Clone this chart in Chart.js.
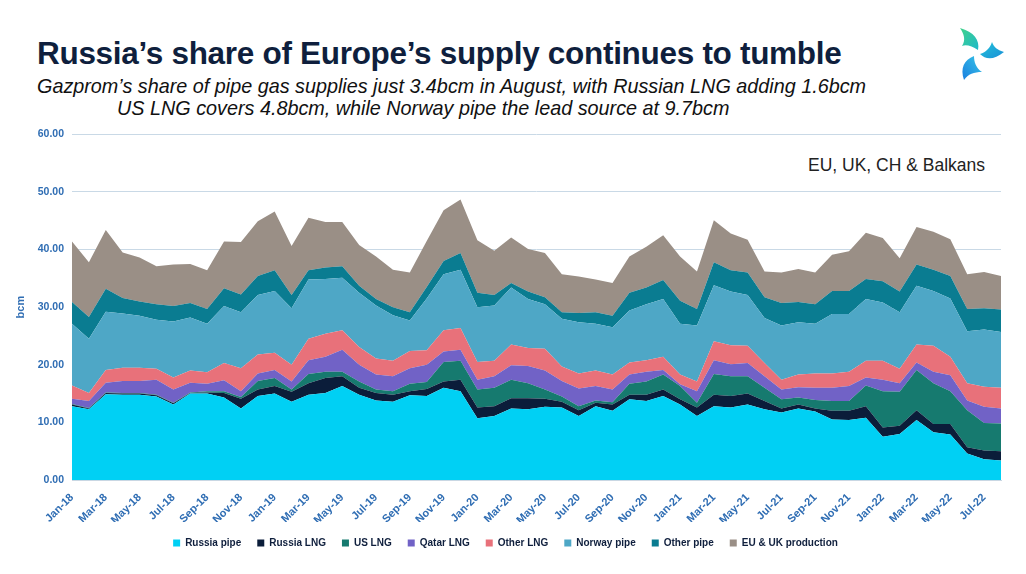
<!DOCTYPE html>
<html>
<head>
<meta charset="utf-8">
<script src="https://cdn.jsdelivr.net/npm/chart.js@4.4.0/dist/chart.umd.min.js"></script>
<style>
    html, body { margin: 0; padding: 0; background: #fff; }
    body { width: 1026px; height: 574px; position: relative; overflow: hidden; font-family: 'Liberation Sans', Arial, sans-serif; }
    .title { position: absolute; left: 37px; top: 35px; font-size: 31.5px; font-weight: bold; color: #0f1f3d; white-space: nowrap; letter-spacing: -0.3px; }
    .sub { position: absolute; font-size: 19.8px; font-style: italic; color: #111; white-space: nowrap; }
    .region { position: absolute; left: 808px; top: 155px; font-size: 17.5px; color: #222; white-space: nowrap; }
    .logo { position: absolute; left: 950px; top: 26px; }
    .wrap { position: absolute; left: 0; top: 120px; width: 1026px; height: 454px; }
</style>
</head>
<body>
<div class="title">Russia’s share of Europe’s supply continues to tumble</div>
<div class="sub" style="left:37px; top:75px;">Gazprom’s share of pipe gas supplies just 3.4bcm in August, with Russian LNG adding 1.6bcm</div>
<div class="sub" style="left:117px; top:97px;">US LNG covers 4.8bcm, while Norway pipe the lead source at 9.7bcm</div>
<svg class="logo" width="56" height="56" viewBox="0 0 56 56">
    <defs>
        <linearGradient id="g1" x1="0" y1="0" x2="1" y2="1">
            <stop offset="0" stop-color="#3fd38a"/><stop offset="1" stop-color="#1fb8c9"/>
        </linearGradient>
        <linearGradient id="g2" x1="0" y1="0" x2="1" y2="1">
            <stop offset="0" stop-color="#22c3d8"/><stop offset="1" stop-color="#1a8fd8"/>
        </linearGradient>
        <linearGradient id="g3" x1="1" y1="0" x2="0" y2="1">
            <stop offset="0" stop-color="#38c6e6"/><stop offset="1" stop-color="#1a7fe0"/>
        </linearGradient>
    </defs>
    <path d="M10 2 C24 6 30 14 28 24 C22 20 16 18 12 20 C16 14 14 8 10 2 Z" fill="url(#g1)"/>
    <path d="M54 26 C44 34 36 34 30 28 C36 26 40 22 42 16 C44 22 48 24 54 26 Z" fill="url(#g2)"/>
    <path d="M14 54 C10 42 14 34 24 30 C24 36 26 42 32 46 C24 46 18 48 14 54 Z" fill="url(#g3)"/>
</svg>
<div class="region">EU, UK, CH &amp; Balkans</div>
<div class="wrap"><canvas id="chart"></canvas></div>
<script>
    const months = [
        'Jan-18', 'Feb-18', 'Mar-18', 'Apr-18', 'May-18', 'Jun-18', 'Jul-18', 'Aug-18', 'Sep-18', 'Oct-18', 'Nov-18', 'Dec-18',
        'Jan-19', 'Feb-19', 'Mar-19', 'Apr-19', 'May-19', 'Jun-19', 'Jul-19', 'Aug-19', 'Sep-19', 'Oct-19', 'Nov-19', 'Dec-19',
        'Jan-20', 'Feb-20', 'Mar-20', 'Apr-20', 'May-20', 'Jun-20', 'Jul-20', 'Aug-20', 'Sep-20', 'Oct-20', 'Nov-20', 'Dec-20',
        'Jan-21', 'Feb-21', 'Mar-21', 'Apr-21', 'May-21', 'Jun-21', 'Jul-21', 'Aug-21', 'Sep-21', 'Oct-21', 'Nov-21', 'Dec-21',
        'Jan-22', 'Feb-22', 'Mar-22', 'Apr-22', 'May-22', 'Jun-22', 'Jul-22', 'Aug-22'
    ];

    // bcm per month, stacked bottom to top
    const russiaPipe = [12.8, 12.3, 14.9, 14.8, 14.8, 14.5, 13.1, 15.0, 15.0, 14.3, 12.4, 14.6, 15.0, 13.6, 14.8, 15.1, 16.3, 14.8, 13.8, 13.6, 14.7, 14.6, 16.0, 15.4, 10.7, 11.1, 12.4, 12.3, 12.7, 12.6, 11.1, 12.8, 12.0, 14.0, 13.7, 14.6, 13.1, 11.1, 12.8, 12.6, 13.1, 12.3, 11.7, 12.4, 11.9, 10.5, 10.4, 10.8, 7.5, 8.0, 10.4, 8.3, 7.9, 4.6, 3.6, 3.4];
    const russiaLng = [0.3, 0.1, 0.2, 0.2, 0.2, 0.2, 0.2, 0.1, 0.2, 0.8, 1.7, 1.1, 1.3, 1.7, 2.0, 2.6, 1.7, 1.2, 1.3, 1.2, 0.7, 1.2, 1.1, 2.0, 1.9, 1.7, 1.8, 1.9, 1.4, 1.0, 1.0, 0.6, 1.1, 0.8, 1.1, 1.1, 0.9, 1.5, 2.0, 2.0, 1.9, 1.4, 0.7, 0.7, 0.5, 1.5, 1.6, 2.0, 1.6, 1.4, 1.7, 1.4, 1.8, 1.1, 1.5, 1.6];
    const usLng = [0.1, 0.1, 0.1, 0.1, 0.1, 0.1, 0.1, 0.1, 0.2, 0.3, 0.3, 1.5, 1.4, 0.4, 1.6, 1.1, 0.8, 1.1, 0.6, 0.6, 1.3, 1.2, 3.4, 3.3, 3.1, 3.2, 3.2, 2.6, 1.6, 0.9, 0.7, 0.4, 0.4, 1.9, 2.3, 2.6, 2.3, 0.8, 3.6, 3.4, 3.0, 2.3, 1.6, 1.2, 1.5, 1.7, 1.7, 3.6, 6.3, 5.9, 7.0, 7.1, 5.7, 6.4, 4.8, 4.8];
    const qatarLng = [0.9, 1.2, 1.7, 2.1, 2.1, 2.6, 2.3, 1.7, 1.3, 1.9, 1.0, 1.3, 1.4, 1.4, 2.4, 2.6, 3.8, 2.9, 2.6, 2.6, 2.7, 3.0, 1.8, 1.9, 1.7, 2.0, 2.5, 3.0, 3.3, 2.7, 3.1, 2.5, 2.2, 1.6, 1.7, 0.8, 0.3, 2.0, 2.4, 2.1, 2.3, 2.0, 1.7, 1.8, 2.1, 2.3, 2.6, 1.4, 2.0, 1.5, 1.3, 2.0, 2.8, 1.7, 2.8, 2.6];
    const otherLng = [2.3, 1.4, 2.2, 2.3, 2.3, 1.9, 2.1, 2.1, 2.0, 3.0, 4.0, 3.3, 3.0, 2.9, 3.7, 4.0, 3.4, 3.1, 2.8, 2.7, 3.0, 2.5, 3.7, 3.8, 3.1, 2.7, 3.6, 3.1, 3.8, 2.5, 2.6, 2.7, 2.6, 2.1, 2.0, 2.3, 1.7, 1.7, 3.3, 3.3, 3.0, 2.3, 1.7, 2.2, 2.5, 2.5, 2.5, 2.9, 3.3, 2.5, 3.1, 4.5, 3.2, 3.0, 3.5, 3.6];
    const norwayPipe = [10.7, 9.4, 10.1, 9.4, 9.0, 8.5, 9.7, 9.2, 8.4, 9.9, 9.7, 10.3, 10.7, 9.8, 10.3, 9.5, 9.1, 9.4, 9.2, 7.9, 5.3, 9.0, 9.7, 10.1, 9.5, 9.6, 9.9, 8.5, 7.7, 8.3, 8.9, 8.1, 8.2, 9.0, 9.7, 10.0, 8.8, 9.7, 9.7, 9.3, 8.8, 7.8, 9.4, 9.1, 8.6, 10.3, 10.0, 10.7, 10.1, 9.8, 10.2, 9.5, 10.1, 9.0, 9.9, 9.7];
    const otherPipe = [3.8, 3.8, 4.0, 2.7, 2.5, 2.7, 2.7, 2.5, 2.6, 3.1, 3.1, 3.3, 3.6, 2.3, 1.6, 2.0, 2.0, 1.2, 1.1, 1.4, 1.4, 2.0, 2.3, 2.9, 2.5, 1.8, 0.8, 1.3, 1.2, 1.1, 1.6, 2.0, 2.0, 3.1, 2.9, 3.3, 4.0, 2.9, 4.0, 3.7, 3.9, 3.6, 3.9, 3.5, 3.4, 4.0, 4.0, 3.5, 3.7, 3.6, 3.7, 3.7, 3.9, 3.9, 3.7, 3.9];
    const euUkProduction = [10.5, 9.5, 10.2, 7.9, 7.6, 6.6, 7.2, 6.8, 6.7, 8.1, 9.1, 9.5, 10.2, 8.5, 9.1, 7.9, 7.7, 7.1, 7.4, 6.5, 6.9, 8.0, 8.8, 9.3, 9.1, 7.7, 7.9, 7.4, 7.7, 6.6, 6.3, 5.7, 5.7, 6.3, 7.1, 7.8, 7.7, 6.5, 7.3, 6.4, 5.7, 4.5, 5.3, 5.7, 5.5, 6.3, 6.9, 8.0, 7.5, 5.8, 6.5, 6.6, 6.4, 6.0, 6.3, 5.8];

    const yMax = 60;
    const yStep = 10;

    const series = [
        { label: 'Russia pipe', data: russiaPipe, color: '#00d0f4' },
        { label: 'Russia LNG', data: russiaLng, color: '#0b1d3a' },
        { label: 'US LNG', data: usLng, color: '#167a6f' },
        { label: 'Qatar LNG', data: qatarLng, color: '#7162c6' },
        { label: 'Other LNG', data: otherLng, color: '#e8717a' },
        { label: 'Norway pipe', data: norwayPipe, color: '#4ea7c6' },
        { label: 'Other pipe', data: otherPipe, color: '#0a7c91' },
        { label: 'EU & UK production', data: euUkProduction, color: '#9a8f86' }
    ];

    const axisFont = { family: "'Liberation Sans Narrow', 'Liberation Sans', Arial, sans-serif", size: 11, weight: 'bold' };
    const axisColor = '#2f6db3';

    new Chart(document.getElementById('chart'), {
        type: 'line',
        data: {
            labels: months,
            datasets: series.map((s, i) => ({
                label: s.label,
                data: s.data,
                backgroundColor: s.color,
                borderColor: s.color,
                borderWidth: 0,
                pointRadius: 0,
                tension: 0,
                fill: i === 0 ? 'origin' : '-1'
            }))
        },
        options: {
            responsive: true,
            maintainAspectRatio: false,
            animation: false,
            layout: { padding: { top: 2, right: 25, left: 10, bottom: 16 } },
            plugins: {
                legend: {
                    position: 'bottom',
                    labels: {
                        boxWidth: 7,
                        boxHeight: 7,
                        padding: 16,
                        color: '#0f1f3d',
                        font: { family: "'Liberation Sans', Arial, sans-serif", size: 10, weight: 'bold' }
                    }
                },
                tooltip: { enabled: false }
            },
            scales: {
                x: {
                    grid: { display: false },
                    border: { color: '#c9d7e3' },
                    ticks: {
                        autoSkip: false,
                        maxRotation: 45,
                        minRotation: 45,
                        color: axisColor,
                        font: axisFont,
                        callback: function (value, index) {
                            return index % 2 === 0 ? this.getLabelForValue(value) : '';
                        }
                    },
                    afterFit: (scale) => { scale.height = 42; }
                },
                y: {
                    stacked: true,
                    min: 0,
                    max: yMax,
                    border: { display: false },
                    grid: { color: '#c9d9e6', drawTicks: false },
                    ticks: {
                        stepSize: yStep,
                        padding: 8,
                        color: axisColor,
                        font: { family: "'Liberation Sans Narrow', 'Liberation Sans', Arial, sans-serif", size: 10.5, weight: 'bold' },
                        callback: (v) => Number(v).toFixed(2)
                    },
                    title: {
                        display: true,
                        text: 'bcm',
                        color: axisColor,
                        font: { family: "'Liberation Sans', Arial, sans-serif", size: 11, weight: 'bold' },
                        padding: 4
                    },
                    afterFit: (scale) => { scale.width = 62; }
                }
            }
        }
    });
</script>
</body>
</html>
